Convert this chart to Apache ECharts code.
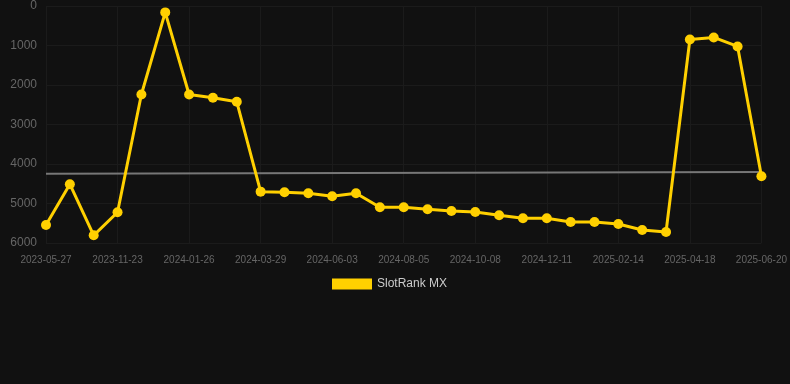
<!DOCTYPE html>
<html>
<head>
<meta charset="utf-8">
<script src="https://cdn.jsdelivr.net/npm/echarts@6/dist/echarts.min.js"></script>
<style>
html,body{margin:0;padding:0;background:#111111;}
#chart{width:790px;height:384px;}
</style>
</head>
<body>
<div id="chart"></div>
<script>
var categories = ['2023-05-27','2023-07-25','2023-09-23','2023-11-23','2023-12-14','2024-01-05','2024-01-26','2024-02-16','2024-03-08','2024-03-29','2024-04-20','2024-05-12','2024-06-03','2024-06-24','2024-07-15','2024-08-05','2024-08-26','2024-09-17','2024-10-08','2024-10-29','2024-11-20','2024-12-11','2025-01-01','2025-01-23','2025-02-14','2025-03-07','2025-03-28','2025-04-18','2025-05-09','2025-05-30','2025-06-20'];
var rankValues = [5544,4512,5805,5222,2241,162,2241,2324,2426,4700,4715,4740,4816,4740,5095,5095,5146,5189,5214,5298,5374,5374,5468,5468,5519,5671,5722,847,796,1024,4309];
var trendStart = 4245;
var trendEnd = 4205;
var seriesName = 'SlotRank MX';

var trendData = categories.map(function(c, i){
  if (i === 0) return trendStart;
  if (i === categories.length - 1) return trendEnd;
  return null;
});

var chart = echarts.init(document.getElementById('chart'));
chart.setOption({
  backgroundColor: '#111111',
  animation: false,
  grid: {left: 46, right: 28, top: 6, bottom: 141},
  legend: {
    data: [seriesName],
    top: 273,
    left: 327,
    itemWidth: 40,
    itemHeight: 11,
    itemGap: 10,
    icon: 'rect',
    textStyle: {color: '#cccccc', fontSize: 12, fontFamily: 'Liberation Sans, Arial, sans-serif'}
  },
  xAxis: {
    type: 'category',
    data: categories,
    boundaryGap: false,
    axisLine: {show: false},
    axisTick: {show: false},
    axisLabel: {color: '#666666', fontSize: 10, interval: 2, margin: 12, fontFamily: 'Liberation Sans, Arial, sans-serif'},
    splitLine: {show: true, interval: 2, lineStyle: {color: '#1b1b1b', width: 1}}
  },
  yAxis: {
    type: 'value',
    inverse: true,
    min: 0,
    max: 6000,
    interval: 1000,
    axisLine: {show: false},
    axisTick: {show: false},
    axisLabel: {color: '#666666', fontSize: 12, margin: 9, fontFamily: 'Liberation Sans, Arial, sans-serif',
      formatter: function(v){ return String(v); }},
    splitLine: {show: true, lineStyle: {color: '#1b1b1b', width: 1}}
  },
  series: [
    {
      name: seriesName,
      type: 'line',
      data: rankValues,
      z: 3,
      symbol: 'circle',
      symbolSize: 10,
      lineStyle: {color: '#FFD000', width: 3},
      itemStyle: {color: '#FFD000'}
    },
    {
      name: 'trend',
      type: 'line',
      data: trendData,
      connectNulls: true,
      showSymbol: false,
      symbol: 'none',
      z: 2,
      lineStyle: {color: '#777777', width: 2},
      itemStyle: {color: '#777777'}
    }
  ]
});
</script>
</body>
</html>
